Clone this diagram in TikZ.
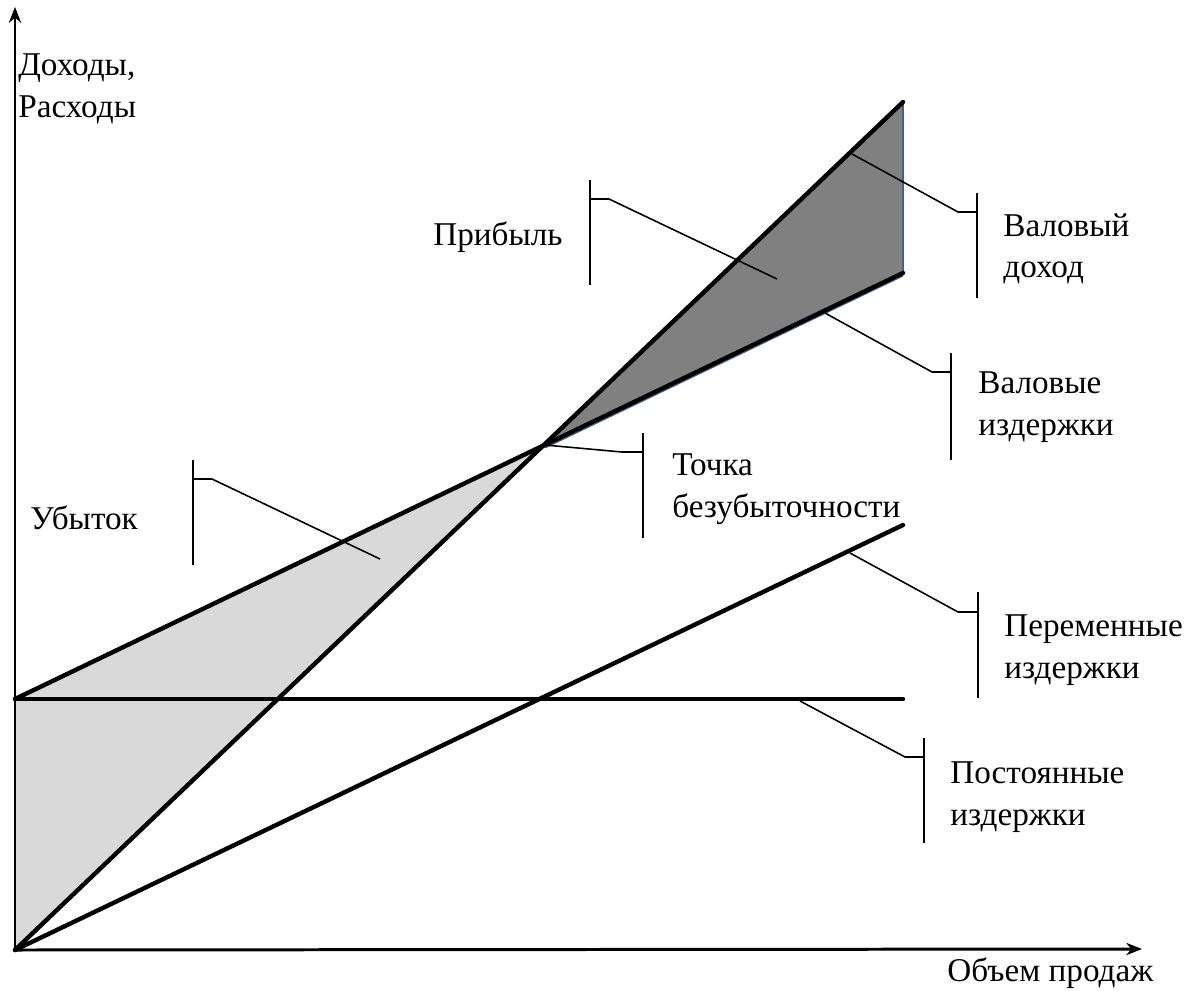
\documentclass[tikz,border=0pt]{standalone}
\usepackage{fontspec}
\setmainfont{Liberation Serif}
\usetikzlibrary{arrows.meta}
\definecolor{darkfill}{RGB}{128,128,128}
\definecolor{lightfill}{RGB}{217,217,217}
\definecolor{edgeblue}{RGB}{65,96,145}
\tikzset{
  axisline/.style={line width=1.7pt,-{Stealth[length=9pt,width=7pt]}},
  mainline/.style={line width=2.5pt,line cap=round},
  leader/.style={line width=0.9pt},
  lbl/.style={anchor=west,align=left,inner sep=0pt,font=\fontsize{18.9}{23.6}\selectfont},
}
\begin{document}
\begin{tikzpicture}[x=0.02cm,y=-0.02cm]
\useasboundingbox (0,0) rectangle (1196,990);
% key points
\coordinate (O) at (15,950);
\coordinate (F0) at (15,699);
\coordinate (F1) at (903,699);
\coordinate (R1) at (903,102);
\coordinate (C1) at (903,273);
\coordinate (V1) at (903,525);
\coordinate (BE) at (545,445);
\coordinate (Ytop) at (15,7);
\coordinate (Xend) at (1142,949);
% fills
\fill[lightfill] (F0) -- (BE) -- (O) -- cycle;
\fill[darkfill] (BE) -- (R1) -- (C1) -- cycle;
\draw[edgeblue,line width=1.6pt] (R1) -- (C1);
\draw[edgeblue,line width=0.8pt] ([yshift=-1.6pt]BE) -- ([yshift=-1.6pt]C1);
% lines
\draw[mainline] (O) -- (R1);
\draw[mainline] (F0) -- (C1);
\draw[mainline] (O) -- (V1);
\draw[mainline] (F0) -- (F1);
% axes
\draw[axisline] (O) -- (Ytop);
\draw[axisline] (O) -- (Xend);
% axis labels
\node[lbl] (ylab) at (18,89) {Доходы,\\Расходы};
\node[lbl] (xlab) at (947,973) {Объем продаж};
% callouts
% Прибыль
\coordinate (pA) at (590,180); \coordinate (pB) at (590,285);
\coordinate (pT) at (609,199); \coordinate (pE) at (777,279);
\draw[leader] (pA) -- (pB);
\draw[leader] (590,199) -- (pT) -- (pE);
\node[lbl] (profit) at (433,237) {Прибыль};
% Убыток
\coordinate (uA) at (193,460); \coordinate (uB) at (193,565);
\coordinate (uT) at (212,479); \coordinate (uE) at (380,559);
\draw[leader] (uA) -- (uB);
\draw[leader] (193,479) -- (uT) -- (uE);
\node[lbl] (loss) at (30,518) {Убыток};
% Валовый доход
\coordinate (rL) at (852,154); \coordinate (rK) at (958,212);
\coordinate (rA) at (977,193); \coordinate (rB) at (977,298);
\draw[leader] (rL) -- (rK) -- (977,212);
\draw[leader] (rA) -- (rB);
\node[lbl] (rev) at (1003,249) {Валовый\\доход};
% Валовые издержки
\coordinate (cL) at (825,313); \coordinate (cK) at (932,372);
\coordinate (cA) at (951,353); \coordinate (cB) at (951,460);
\draw[leader] (cL) -- (cK) -- (951,372);
\draw[leader] (cA) -- (cB);
\node[lbl] (cost) at (978,407) {Валовые\\издержки};
% Точка безубыточности
\coordinate (bK) at (622,452);
\coordinate (bA) at (643,433); \coordinate (bB) at (643,538);
\draw[leader] (BE) -- (bK) -- (643,452);
\draw[leader] (bA) -- (bB);
\node[lbl] (be) at (672,489) {Точка\\безубыточности};
% Переменные издержки
\coordinate (vL) at (850,553); \coordinate (vK) at (958,612);
\coordinate (vA) at (978,592); \coordinate (vB) at (978,698);
\draw[leader] (vL) -- (vK) -- (978,612);
\draw[leader] (vA) -- (vB);
\node[lbl] (var) at (1004,650) {Переменные\\издержки};
% Постоянные издержки
\coordinate (fL) at (800,701); \coordinate (fK) at (905,757);
\coordinate (fA) at (924,738); \coordinate (fB) at (924,843);
\draw[leader] (fL) -- (fK) -- (924,757);
\draw[leader] (fA) -- (fB);
\node[lbl] (fix) at (950,797) {Постоянные\\издержки};
\end{tikzpicture}
\end{document}
